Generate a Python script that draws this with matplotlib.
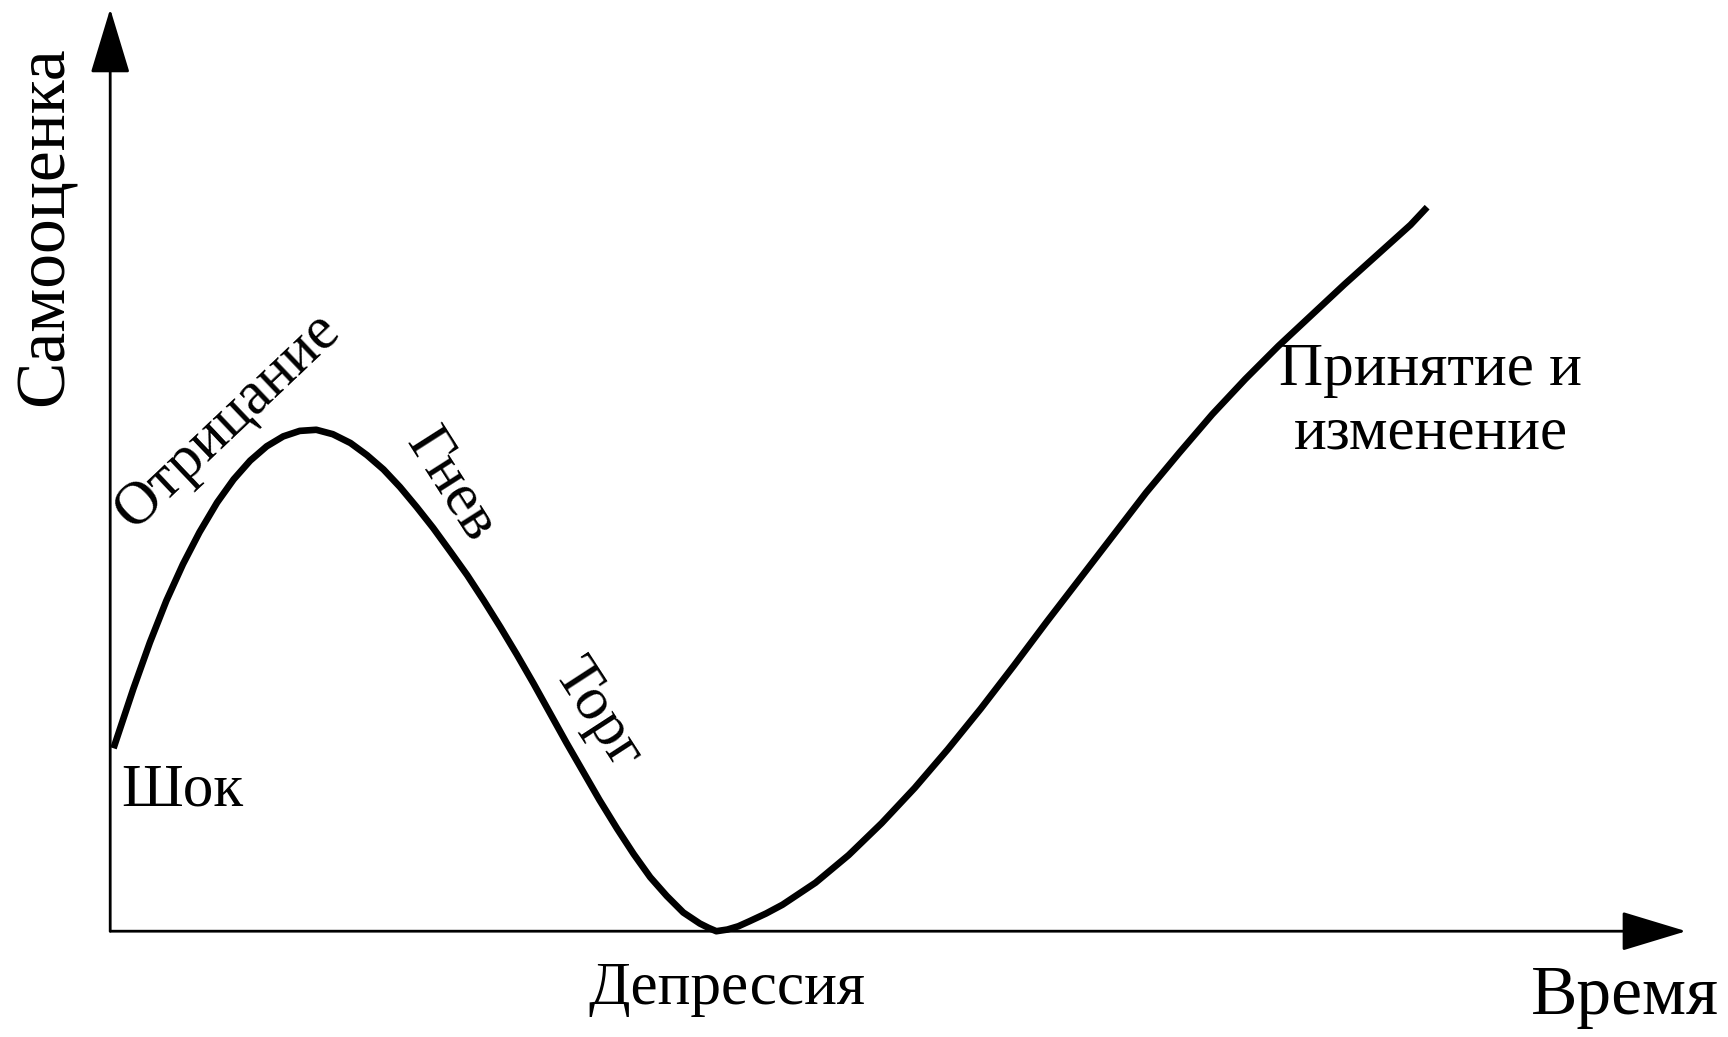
import matplotlib
matplotlib.use("Agg")
from matplotlib import pyplot as plt

# curve: time vs self-esteem (1 unit ~ 100 px of the shrunk view)
time_pts = [0.03, 0.12, 0.21, 0.36, 0.51, 0.66, 0.81, 0.97, 1.12, 1.27, 1.42, 1.57,
            1.72, 1.87, 2.02, 2.18, 2.33, 2.48, 2.63, 2.78, 2.93, 3.09, 3.24, 3.39,
            3.54, 3.69, 3.84, 3.99, 4.14, 4.29, 4.44, 4.60, 4.75, 4.90, 5.05, 5.20,
            5.35, 5.43, 5.50, 5.60, 5.70, 5.80, 5.95, 6.10, 6.40, 6.70, 7.00, 7.30,
            7.60, 7.90, 8.20, 8.50, 8.80, 9.10, 9.40, 9.70, 10.00, 10.30, 10.60,
            10.90, 11.20, 11.50, 11.80, 11.95]
esteem_pts = [1.66, 1.93, 2.20, 2.62, 3.00, 3.33, 3.62, 3.89, 4.10, 4.27, 4.40, 4.49,
              4.54, 4.55, 4.51, 4.43, 4.32, 4.19, 4.03, 3.85, 3.66, 3.44, 3.23, 3.00,
              2.76, 2.51, 2.25, 1.98, 1.71, 1.45, 1.19, 0.93, 0.70, 0.49, 0.32, 0.17,
              0.07, 0.03, 0.00, 0.015, 0.045, 0.09, 0.16, 0.24, 0.44, 0.69, 0.98, 1.30,
              1.65, 2.02, 2.41, 2.81, 3.20, 3.59, 3.98, 4.34, 4.69, 5.01, 5.31,
              5.59, 5.87, 6.14, 6.41, 6.57]

stage_names = ['Шок', 'Отрицание', 'Гнев', 'Торг', 'Депрессия', 'Принятие и\nизменение']
x_label = 'Время'
y_label = 'Самооценка'

plt.rcParams['font.family'] = ['Liberation Serif', 'DejaVu Serif']

fig = plt.figure(figsize=(17.28, 10.37), dpi=100)
ax = fig.add_axes([0, 0, 1, 1])
ax.set_xlim(-1.0, 14.68)
ax.set_ylim(-0.96, 8.45)
ax.axis('off')

# axes with arrow heads
arrow = dict(arrowstyle='-|>,head_length=1.65,head_width=0.5', mutation_scale=25,
             lw=2, color='black', shrinkA=0, shrinkB=0)
ax.annotate('', xy=(14.3, 0), xytext=(0, 0), arrowprops=arrow)
ax.annotate('', xy=(0, 8.37), xytext=(0, 0), arrowprops=arrow)

ax.plot(time_pts, esteem_pts, color='black', lw=4.8, solid_capstyle='butt',
        solid_joinstyle='round')

fs = 44
ax.text(0.1, 1.27, stage_names[0], fontsize=fs, ha='left', va='center')
ax.text(1.07, 4.63, stage_names[1], fontsize=fs, ha='center', va='center',
        rotation=43.5, rotation_mode='anchor')
ax.text(3.09, 4.05, stage_names[2], fontsize=fs, ha='center', va='center',
        rotation=-57.5, rotation_mode='anchor')
ax.text(4.42, 1.96, stage_names[3], fontsize=fs, ha='center', va='center',
        rotation=-57, rotation_mode='anchor')
ax.text(5.6, -0.53, stage_names[4], fontsize=fs, ha='center', va='center')
ax.text(11.98, 4.8, stage_names[5], fontsize=fs, ha='center', va='center',
        linespacing=1.2)

ax.text(14.6, -0.6, x_label, fontsize=50, ha='right', va='center')
ax.text(-0.58, 6.4, y_label, fontsize=50, ha='center', va='center', rotation=90)

fig.savefig('out.png', dpi=100, facecolor='white')
